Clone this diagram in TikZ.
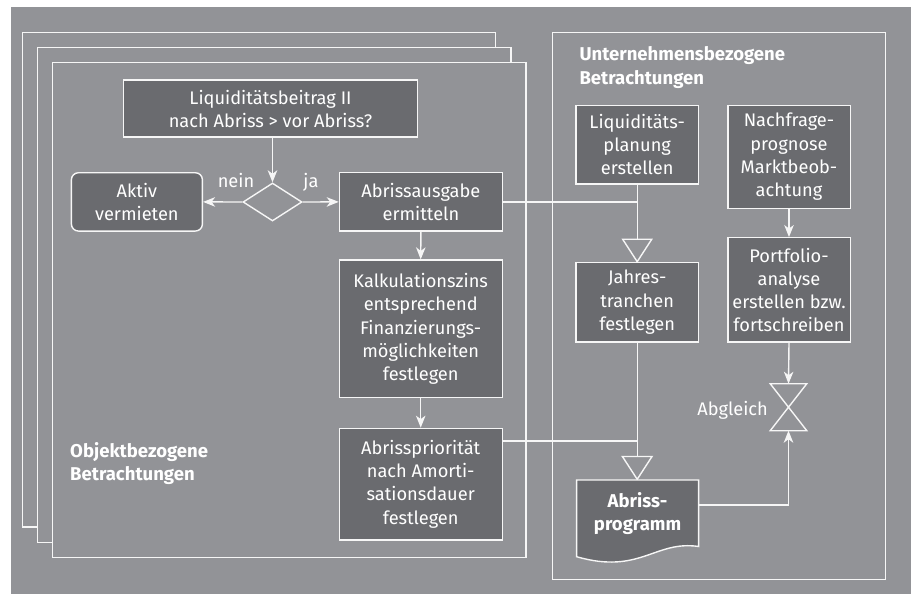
\documentclass[tikz,border=0pt]{standalone}
\usepackage{fontspec}
\setmainfont{Fira Sans}
\usetikzlibrary{arrows.meta,shapes.geometric}
\definecolor{bggray}{HTML}{929397}
\definecolor{boxgray}{HTML}{6A6B6F}
\definecolor{ln}{HTML}{F6F6F6}
\begin{document}
\begin{tikzpicture}[x=1bp,y=-1bp,
  font=\fontsize{18.3}{23.3}\selectfont,
  frame/.style={draw=ln, line width=1.4bp, fill=bggray},
  box/.style={draw=ln, line width=1.4bp, fill=boxgray, text=white, align=center, inner sep=0pt},
  conn/.style={draw=ln, line width=1.4bp},
  arr/.style={conn, -{Stealth[length=12bp,width=9.5bp,inset=3.5bp]}},
  lbl/.style={text=white, inner sep=0pt},
  head/.style={text=white, inner sep=0pt, align=left, font=\fontsize{18.6}{24}\selectfont\bfseries}]
\useasboundingbox (0,0) rectangle (916,594);
\fill[white] (0,0) rectangle (916,594);
\fill[bggray] (11,7) rectangle (911,594);
% stacked frames
\draw[frame] (22.7,32.3) rectangle (495.7,527);
\draw[frame] (37.7,47.3) rectangle (511,542.3);
\draw[frame] (52.7,62.7) rectangle (526,557.3);
\draw[frame] (552.7,32.3) rectangle (885.3,579.3);
\node[head, anchor=west] (objlbl) at (70,463.5) {Objektbezogene\\Betrachtungen};
\node[head, anchor=west] (unlbl) at (579.3,67.5) {Unternehmensbezogene\\Betrachtungen};
% left flow
\node[box, minimum width=294bp, minimum height=57bp] (liq) at (270.5,108.7) {Liquiditätsbeitrag II\\nach Abriss > vor Abriss?};
\node[draw=ln, line width=1.4bp, shape=diamond, minimum width=59bp, minimum height=38bp, inner sep=0pt] (dia) at (272.5,202) {};
\node[box, rounded corners=7bp, minimum width=131bp, minimum height=58.3bp] (akt) at (136.9,201.9) {Aktiv\\vermieten};
\node[box, minimum width=163bp, minimum height=58.3bp] (ausg) at (420.9,201.9) {Abrissausgabe\\ermitteln};
\node[box, minimum width=163bp, minimum height=137.7bp] (kalk) at (420.7,328.9) {Kalkulationszins\\entsprechend\\Finanzierungs-\\möglichkeiten\\festlegen};
\node[box, minimum width=163bp, minimum height=111.7bp] (prio) at (420.7,484.2) {Abrisspriorität\\nach Amorti-\\sationsdauer\\festlegen};
\node[lbl, anchor=base] (nein) at (236,188) {nein};
\node[lbl, anchor=base] (ja) at (311,188) {ja};
\draw[arr] (liq.south -| dia.north) -- (dia.north);
\draw[arr] (dia.west) -- (akt.east);
\draw[arr] (dia.east) -- (ausg.west);
\draw[arr] (ausg.south) -- (kalk.north);
\draw[arr] (kalk.south) -- (prio.north);
% right flow
\node[box, minimum width=122.3bp, minimum height=78.7bp] (liqp) at (637.2,144.7) {Liquiditäts-\\planung\\erstellen};
\node[box, minimum width=122.4bp, minimum height=103bp] (nach) at (789,156.8) {Nachfrage-\\prognose\\Marktbeob-\\achtung};
\node[box, minimum width=122.3bp, minimum height=79.7bp] (jahr) at (637.2,302.2) {Jahres-\\tranchen\\festlegen};
\node[box, minimum width=122.4bp, minimum height=104.3bp] (port) at (789,289.9) {Portfolio-\\analyse\\erstellen bzw.\\fortschreiben};
\draw[arr] (nach.south) -- (port.north);
% merge triangles
\coordinate (t1) at (637.2,239.3);
\coordinate (t2) at (637.2,456.5);
\draw[conn, fill=bggray, line join=miter] ([shift={(-14.5,0)}]t1) -- ([shift={(14.5,0)}]t1) -- ([shift={(0,22.4)}]t1) -- cycle;
\draw[conn, fill=bggray, line join=miter] ([shift={(-14.8,0)}]t2) -- ([shift={(14.8,0)}]t2) -- ([shift={(0,22.8)}]t2) -- cycle;
\draw[conn] (liqp.south) -- (t1);
\draw[conn] (ausg.east) -- (ausg.east -| t1);
\coordinate (j2) at (637.2,441);
\draw[conn] (jahr.south) -- (t2);
\draw[conn] (j2 -| prio.east) -- (j2);
% document
\fill[boxgray] (576.6,480) -- (698.6,480) -- (698.6,546.5) .. controls (655,540) and (640,575) .. (576.6,556.7) -- cycle;
\draw[conn, line join=miter] (576.6,480) -- (698.6,480) -- (698.6,546.5) .. controls (655,540) and (640,575) .. (576.6,556.7) -- cycle;
\node[lbl, minimum width=122bp, minimum height=66.5bp, font=\fontsize{18.6}{23.3}\selectfont\bfseries, align=center] (doc) at (637.6,513.2) {Abriss-\\programm};
% Abgleich
\coordinate (abg) at (788.5,407.2);
\coordinate (abgtop) at (788.5,383.7);
\coordinate (abgbot) at (788.5,430.7);
\draw[conn, line join=miter] ([shift={(-18.3,-23.5)}]abg) -- ([shift={(18.3,-23.5)}]abg) -- ([shift={(-18.3,23.5)}]abg) -- ([shift={(18.3,23.5)}]abg) -- cycle;
\node[lbl, anchor=base east] (abgl) at (768,415) {Abgleich};
\draw[arr] (port.south) -- (abgtop);
\coordinate (c3) at (788.5,505);
\draw[arr] (c3 -| doc.east) -- (c3) -- (abgbot);
\end{tikzpicture}
\end{document}
